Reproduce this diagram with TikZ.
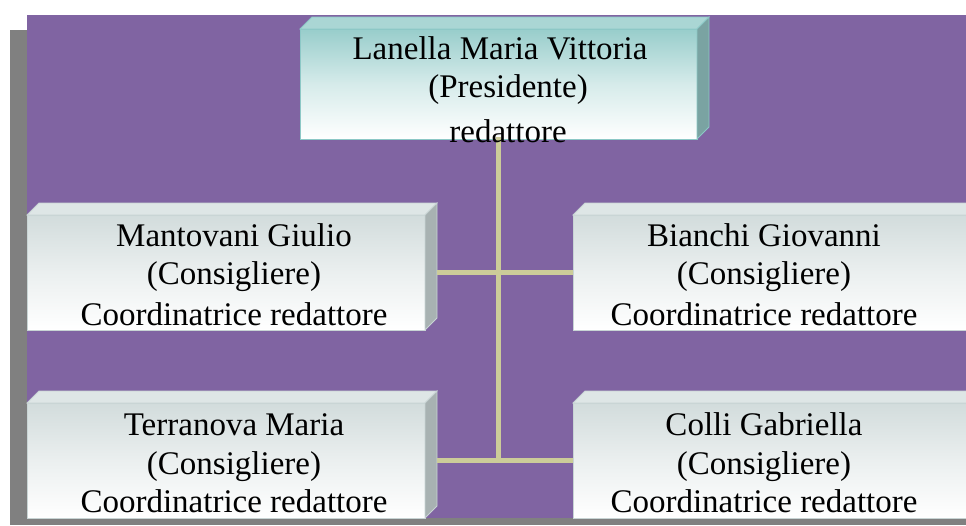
\documentclass[tikz,border=0pt]{standalone}
\usepackage{fontspec}
\setmainfont{Liberation Serif}
\definecolor{purp}{RGB}{128,100,162}
\definecolor{shadowgray}{RGB}{128,128,128}
\definecolor{linecol}{RGB}{204,204,153}
\definecolor{tealtop}{RGB}{152,205,203}
\definecolor{tealface}{RGB}{170,214,212}
\definecolor{tealside}{RGB}{122,163,162}
\definecolor{tealedge}{RGB}{140,200,198}
\definecolor{graytop}{RGB}{210,220,220}
\definecolor{grayface}{RGB}{222,230,230}
\definecolor{grayside}{RGB}{168,178,178}
\definecolor{grayedge}{RGB}{200,212,212}
\newcommand\boxfaces[4]{%
  \fill[#2, draw=#4, line width=0.8pt] (#1.north west) -- ++(12,-12) -- ([shift={(12,-12)}]#1.north east) -- (#1.north east) -- cycle;
  \fill[#3, draw=#4, line width=0.8pt] (#1.north east) -- ++(12,-12) -- ([shift={(12,-12)}]#1.south east) -- (#1.south east) -- cycle;
}
\begin{document}
\begin{tikzpicture}[x=1pt,y=-1pt,
  graybox/.style={rectangle, inner sep=0pt, outer sep=0pt, anchor=north west,
    minimum width=398pt, minimum height=115pt, top color=graytop, bottom color=white,
    middle color=graytop!45!white, draw=grayedge, line width=0.8pt},
  tealbox/.style={rectangle, inner sep=0pt, outer sep=0pt, anchor=north west,
    minimum width=397pt, minimum height=110pt, top color=tealtop, bottom color=white,
    middle color=tealtop!40!white, draw=tealedge, line width=0.8pt},
  conn/.style={draw=linecol, line width=4.5pt},
  txt/.style={anchor=base, inner sep=0pt, font=\fontsize{33}{38}\selectfont}]
\useasboundingbox (0,0) rectangle (966,525);
\clip (0,0) rectangle (966,525);
\fill[white] (0,0) rectangle (966,525);
\fill[shadowgray] (10,30) rectangle (966,525);
\fill[purp] (27,15) rectangle (966,518);

% boxes
\node[tealbox] (top) at (300,29) {};
\boxfaces{top}{tealface}{tealside}{tealedge}
\node[graybox] (ml) at (27,215) {};
\boxfaces{ml}{grayface}{grayside}{grayedge}
\node[graybox] (mr) at (573,215) {};
\boxfaces{mr}{grayface}{grayside}{grayedge}
\node[graybox] (bl) at (27,403) {};
\boxfaces{bl}{grayface}{grayside}{grayedge}
\node[graybox] (br) at (573,403) {};
\boxfaces{br}{grayface}{grayside}{grayedge}

% connectors
\draw[conn, line cap=rect] (top.south) -- (top.south |- bl.east);
\draw[conn] ([xshift=12pt]ml.east) -- (mr.west);
\draw[conn] ([xshift=12pt]bl.east) -- (br.west);

% texts
\node[txt] (t1) at (500,59) {Lanella Maria Vittoria};
\node[txt] (t2) at (508,97) {(Presidente)};
\node[txt] (t3) at (508,142) {redattore};

\node[txt] (ml1) at (234,246) {Mantovani Giulio};
\node[txt] (ml2) at (234,284) {(Consigliere)};
\node[txt] (ml3) at (234,325) {Coordinatrice redattore};

\node[txt] (mr1) at (764,246) {Bianchi Giovanni};
\node[txt] (mr2) at (764,284) {(Consigliere)};
\node[txt] (mr3) at (764,325) {Coordinatrice redattore};

\node[txt] (bl1) at (234,435) {Terranova Maria};
\node[txt] (bl2) at (234,474) {(Consigliere)};
\node[txt] (bl3) at (234,512) {Coordinatrice redattore};

\node[txt] (br1) at (764,435) {Colli Gabriella};
\node[txt] (br2) at (764,474) {(Consigliere)};
\node[txt] (br3) at (764,512) {Coordinatrice redattore};
\end{tikzpicture}
\end{document}
